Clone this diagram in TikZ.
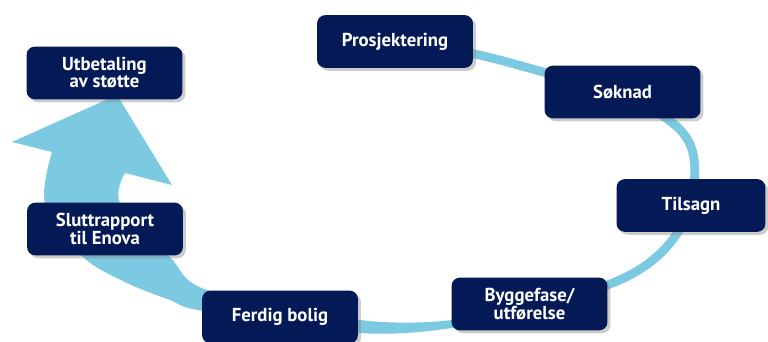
\documentclass[tikz,border=0pt]{standalone}
\usepackage{fontspec}
\setmainfont{PT Sans}
\usetikzlibrary{shadows,backgrounds}
\definecolor{navy}{RGB}{4,26,86}
\definecolor{ringblue}{RGB}{124,202,226}

\begin{document}
\begin{tikzpicture}[x=0.03cm,y=0.03cm,
  stage/.style={rectangle, rounded corners=7pt, fill=navy, text=white,
    font=\bfseries\fontsize{16}{14.5}\selectfont, align=center,
    minimum width=133pt, minimum height=45pt, inner sep=2pt,
    drop shadow={shadow xshift=2.5pt, shadow yshift=-2.5pt, opacity=0.4}},
  ring/.style={draw=ringblue, line width=7.5pt}]
\useasboundingbox (0,0) rectangle (768,341);
\node[stage] (utbet) at (104.5,268) {Utbetaling\\av støtte};
\node[stage] (slutt) at (105,112) {Sluttrapport\\til Enova};
\node[stage] (ferdig) at (280,24) {Ferdig bolig};
\node[stage] (bygg) at (529.5,37) {Byggefase/\\utførelse};
\node[stage, minimum width=127pt] (tilsagn) at (691,135.5) {Tilsagn};
\node[stage] (prosj) at (395,299.5) {Prosjektering};
\node[stage] (soknad) at (622.5,249) {Søknad};
\begin{scope}[on background layer]
\draw[ring] (prosj.center) to[out=-5,in=168] (soknad.center)
  to[out=-30,in=80,looseness=1.4] (tilsagn.center)
  to[out=-110,in=10] (bygg.center);
\fill[ringblue] plot[smooth, tension=0.5] coordinates {(529.5,33) (452,13) (360,8) (203,30) (170,41) (127,58) (83,84) (45,138) (52,189)}
  -- (12,199) -- (117,246) -- (172,156)
  -- plot[smooth, tension=0.5] coordinates {(125,168) (120,138) (170,84) (207,51) (360,21) (452,21) (529.5,41)}
  -- cycle;
\end{scope}
\end{tikzpicture}
\end{document}
